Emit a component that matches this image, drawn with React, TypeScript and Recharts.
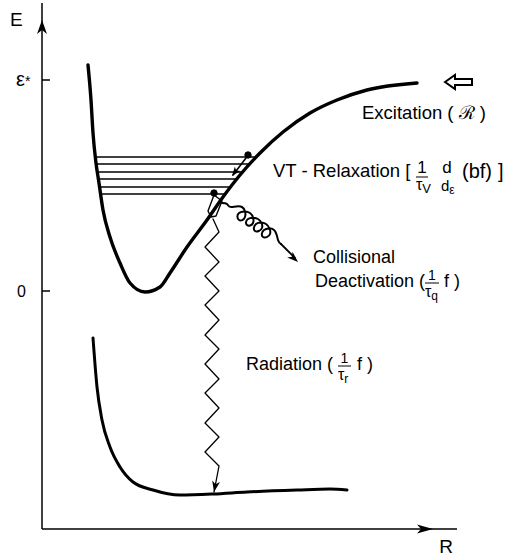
import React from 'react';
import { ComposedChart, XAxis, YAxis, Line, ReferenceLine, ReferenceDot } from 'recharts';

const FONT = '"Liberation Sans", Arial, Helvetica, sans-serif';
const INK = '#000';

// energy axis (arbitrary units): zero and the excitation level
const energyTicks = [0, 21.1];
const energyTickNames = ['0', 'ε*'];

// upper (excited state) potential curve
const upperCurve = [
  { r: 4.6, e: 22.6 }, { r: 4.9, e: 19.1 }, { r: 5.1, e: 15.8 }, { r: 5.4, e: 12.8 },
  { r: 5.7, e: 10.8 }, { r: 6.1, e: 8.1 }, { r: 6.8, e: 5.4 }, { r: 7.8, e: 2.8 },
  { r: 8.8, e: 0.8 }, { r: 10.3, e: -0.1 }, { r: 11.8, e: 0.4 }, { r: 12.8, e: 1.8 },
  { r: 14.5, e: 4.4 }, { r: 16.5, e: 7.1 }, { r: 18.1, e: 9.4 }, { r: 19.8, e: 11.6 },
  { r: 21.8, e: 13.8 }, { r: 24.1, e: 15.9 }, { r: 26.8, e: 17.8 }, { r: 29.5, e: 19.1 },
  { r: 32.5, e: 20.1 }, { r: 37.5, e: 20.8 },
];

// lower (ground state) curve
const lowerCurve = [
  { r: 5.1, e: -4.7 }, { r: 5.5, e: -9.6 }, { r: 6.0, e: -12.9 }, { r: 6.8, e: -15.6 },
  { r: 7.8, e: -17.6 }, { r: 9.1, e: -19.1 }, { r: 11.1, e: -19.9 }, { r: 13.8, e: -20.4 },
  { r: 17.1, e: -20.3 }, { r: 20.5, e: -20.1 }, { r: 25.5, e: -19.9 }, { r: 28.8, e: -19.8 },
  { r: 30.5, e: -19.9 },
];

// vibrational levels inside the upper well
const vibLevels = [
  { e: 13.4, r0: 5.5, r1: 21.4 },
  { e: 12.7, r0: 5.5, r1: 20.8 },
  { e: 11.9, r0: 5.6, r1: 20.1 },
  { e: 11.2, r0: 5.7, r1: 19.5 },
  { e: 10.4, r0: 5.8, r1: 18.9 },
  { e: 9.7, r0: 6.0, r1: 18.3 },
];

// populated states
const stateDots = [
  { r: 20.6, e: 13.6 },
  { r: 17.2, e: 9.8 },
];

// VT relaxation step
const vtStep = [
  { r: 20.4, e: 13.3 },
  { r: 19.1, e: 11.6 },
];

// small box where the radiative path starts
const launchBox = [
  { r: 17.2, e: 9.6 }, { r: 16.6, e: 8.0 }, { r: 16.9, e: 7.4 },
  { r: 17.4, e: 7.5 }, { r: 18.0, e: 9.0 }, { r: 17.2, e: 9.6 },
];

// radiation (zig-zag photon) path
const radiationPath = [
  { r: 17.1, e: 7.2 }, { r: 17.7, e: 5.9 }, { r: 16.3, e: 4.4 }, { r: 17.7, e: 2.9 },
  { r: 16.3, e: 1.5 }, { r: 17.7, e: 0.0 }, { r: 16.3, e: -1.4 }, { r: 17.7, e: -2.9 },
  { r: 16.3, e: -4.4 }, { r: 17.7, e: -5.8 }, { r: 16.3, e: -7.3 }, { r: 17.7, e: -8.8 },
  { r: 16.3, e: -10.2 }, { r: 17.7, e: -11.7 }, { r: 16.3, e: -13.2 }, { r: 17.7, e: -14.6 },
  { r: 16.3, e: -16.1 }, { r: 17.7, e: -17.5 }, { r: 17.2, e: -20.1 },
];

// collisional deactivation (coil) path
const collisionCoil = [
  { r: 18.0, e: 8.8 }, { r: 18.5, e: 8.7 }, { r: 18.9, e: 8.4 }, { r: 20.0, e: 8.4 },
  { r: 20.3, e: 7.4 }, { r: 19.7, e: 7.1 }, { r: 19.7, e: 7.8 }, { r: 20.8, e: 7.8 },
  { r: 21.1, e: 6.8 }, { r: 20.5, e: 6.6 }, { r: 20.6, e: 7.2 }, { r: 21.6, e: 7.2 },
  { r: 22.0, e: 6.3 }, { r: 21.3, e: 6.0 }, { r: 21.4, e: 6.7 }, { r: 22.4, e: 6.7 },
  { r: 22.8, e: 5.7 }, { r: 22.1, e: 5.4 }, { r: 22.2, e: 6.1 }, { r: 23.2, e: 6.1 },
  { r: 23.6, e: 5.1 }, { r: 23.9, e: 4.7 },
];
const coilTail = [
  { r: 23.9, e: 4.7 },
  { r: 25.3, e: 3.3 },
];

// arrow tips
const tipEAxis = { r: 0, e: 27.1 };
const tipRAxis = { r: 39.1, e: -23.8 };
const tipVT = { r: 19.0, e: 11.5 };
const tipCoil = { r: 25.6, e: 2.9 };
const tipRadiation = { r: 17.2, e: -20.1 };
const tipExcitation = { r: 40.3, e: 20.9 };

// label anchors (baseline start)
const posExcitation = { r: 32.0, e: 17.2 };
const posVT = { r: 23.1, e: 11.4 };
const posCollisional = { r: 27.1, e: 2.8 };
const posDeactivation = { r: 27.3, e: 0.4 };
const posRadiation = { r: 20.4, e: -7.9 };

const Arrowhead = ({ cx, cy, angle, len = 12, half = 4.5, notch = 3 }: any) => (
  <polygon
    points={`0,0 ${-len},${-half} ${-len + notch},0 ${-len},${half}`}
    transform={`translate(${cx},${cy}) rotate(${angle})`}
    fill={INK}
  />
);

const HollowArrow = ({ cx, cy }: any) => (
  <polygon
    points="0,0 10,-7 10,-3 27,-3 27,3 10,3 10,7"
    transform={`translate(${cx},${cy})`}
    fill="#fff"
    stroke={INK}
    strokeWidth={2}
    strokeLinejoin="miter"
  />
);

const EnergyTick = ({ x, y, payload }: any) => {
  const name = energyTickNames[energyTicks.indexOf(payload.value)];
  return (
    <g>
      <line x1={x} x2={x + 8} y1={y} y2={y} stroke={INK} strokeWidth={1.5} />
      {name === 'ε*' ? (
        <text x={x - 26} y={y + 6} fontFamily={FONT} fontSize={20} fill={INK}>
          ε<tspan fontSize={14}>*</tspan>
        </text>
      ) : (
        <text x={x - 25} y={y + 6} fontFamily={FONT} fontSize={16} fill={INK}>
          {name}
        </text>
      )}
    </g>
  );
};

// stacked fraction: numerator over a bar, denominator with a subscript
const Frac = ({ x, y, num, den, sub, w, numSize = 13, denSize = 15, subSize = 12, numY = -7, denY = 10, barY = -4, bar = true }: any) => (
  <g>
    <text x={x + w / 2} y={y + numY} fontSize={numSize} textAnchor="middle">{num}</text>
    {bar && <line x1={x} x2={x + w} y1={y + barY} y2={y + barY} stroke={INK} strokeWidth={1} />}
    <text x={x} y={y + denY} fontSize={denSize}>
      {den}
      <tspan fontSize={subSize} dy={3}>{sub}</tspan>
    </text>
  </g>
);

const ExcitationLabel = ({ cx, cy }: any) => (
  <text x={cx} y={cy} fontFamily={FONT} fontSize={18.5} fill={INK}>Excitation ( ℛ )</text>
);

const VTLabel = ({ cx, cy }: any) => (
  <g fontFamily={FONT} fill={INK}>
    <text x={cx} y={cy} fontSize={18.5}>VT - Relaxation [</text>
    <Frac x={cx + 143} y={cy} w={12} num="1" den="τ" sub="V" numSize={17} denSize={16} subSize={13} numY={-4} denY={13} barY={0} />
    <Frac x={cx + 168} y={cy} w={12} num="d" den="d" sub="ε" numSize={17} denSize={15} subSize={12} numY={-4} denY={14} bar={false} />
    <text x={cx + 189} y={cy + 1} fontSize={20}>(bf)</text>
    <text x={cx + 225} y={cy + 1} fontSize={20}>]</text>
  </g>
);

const CollisionalLabel = ({ cx, cy }: any) => (
  <text x={cx} y={cy} fontFamily={FONT} fontSize={18} fill={INK}>Collisional</text>
);

const DeactivationLabel = ({ cx, cy }: any) => (
  <g fontFamily={FONT} fill={INK}>
    <text x={cx} y={cy} fontSize={18}>Deactivation (</text>
    <Frac x={cx + 110} y={cy} w={14} num="1" den="τ" sub="q" numSize={14} denSize={16} />
    <text x={cx + 129} y={cy} fontSize={18}>f )</text>
  </g>
);

const RadiationLabel = ({ cx, cy }: any) => (
  <g fontFamily={FONT} fill={INK}>
    <text x={cx} y={cy} fontSize={18}>Radiation (</text>
    <Frac x={cx + 92} y={cy} w={13} num="1" den="τ" sub="r" numSize={14} denSize={16} />
    <text x={cx + 111} y={cy} fontSize={18}>f )</text>
  </g>
);

const line = (data: any[], width: number, type: any = 'linear') => (
  <Line
    data={data}
    dataKey="e"
    type={type}
    stroke={INK}
    strokeWidth={width}
    dot={false}
    activeDot={false}
    strokeLinecap="round"
    strokeLinejoin="round"
    isAnimationActive={false}
  />
);

const App: React.FC = () => {
  return (
    <div style={{ position: 'absolute', left: 0, top: 0, width: 507, height: 557, background: '#fff' }}>
      <ComposedChart width={507} height={557} margin={{ top: 3, right: 50, bottom: 0, left: 0 }}>
        <XAxis
          type="number"
          dataKey="r"
          domain={[0, 41.5]}
          allowDataOverflow
          height={28}
          tick={false}
          tickLine={false}
          axisLine={{ stroke: INK, strokeWidth: 1.5 }}
          label={{ value: 'R', position: 'insideBottomRight', offset: 4, fontSize: 19, fontFamily: FONT, fill: INK }}
        />
        <YAxis
          type="number"
          dataKey="e"
          domain={[-23.8, 28.8]}
          allowDataOverflow
          ticks={energyTicks}
          width={42}
          tickSize={0}
          tickMargin={0}
          tickLine={false}
          tick={(p: any) => <EnergyTick {...p} />}
          axisLine={{ stroke: INK, strokeWidth: 1.5 }}
          label={{ value: 'E', position: 'insideTopLeft', offset: 10, fontSize: 19, fontFamily: FONT, fill: INK }}
        />

        {vibLevels.map((l, i) => (
          <ReferenceLine
            key={i}
            segment={[{ x: l.r0, y: l.e }, { x: l.r1, y: l.e }]}
            stroke={INK}
            strokeWidth={1.4}
          />
        ))}

        {line(upperCurve, 3.4, 'monotone')}
        {line(lowerCurve, 3, 'monotone')}
        {line(radiationPath, 1.3)}
        {line(launchBox, 1.4)}
        {line(collisionCoil, 2, 'natural')}
        {line(coilTail, 1.8)}
        {line(vtStep, 1.6)}

        {stateDots.map((d, i) => (
          <ReferenceDot key={i} x={d.r} y={d.e} r={3.2} fill={INK} stroke={INK} ifOverflow="visible" />
        ))}

        <ReferenceDot x={tipEAxis.r} y={tipEAxis.e} ifOverflow="visible" shape={(p: any) => <Arrowhead {...p} angle={-90} len={14} half={5} notch={4} />} />
        <ReferenceDot x={tipRAxis.r} y={tipRAxis.e} ifOverflow="visible" shape={(p: any) => <Arrowhead {...p} angle={0} len={16} half={4.5} notch={4} />} />
        <ReferenceDot x={tipVT.r} y={tipVT.e} ifOverflow="visible" shape={(p: any) => <Arrowhead {...p} angle={128} len={9} half={3.5} notch={2} />} />
        <ReferenceDot x={tipCoil.r} y={tipCoil.e} ifOverflow="visible" shape={(p: any) => <Arrowhead {...p} angle={42} len={11} half={4} notch={3} />} />
        <ReferenceDot x={tipRadiation.r} y={tipRadiation.e} ifOverflow="visible" shape={(p: any) => <Arrowhead {...p} angle={101} len={11} half={4} notch={3} />} />
        <ReferenceDot x={tipExcitation.r} y={tipExcitation.e} ifOverflow="visible" shape={(p: any) => <HollowArrow {...p} />} />

        <ReferenceDot x={posExcitation.r} y={posExcitation.e} ifOverflow="visible" shape={(p: any) => <ExcitationLabel {...p} />} />
        <ReferenceDot x={posVT.r} y={posVT.e} ifOverflow="visible" shape={(p: any) => <VTLabel {...p} />} />
        <ReferenceDot x={posCollisional.r} y={posCollisional.e} ifOverflow="visible" shape={(p: any) => <CollisionalLabel {...p} />} />
        <ReferenceDot x={posDeactivation.r} y={posDeactivation.e} ifOverflow="visible" shape={(p: any) => <DeactivationLabel {...p} />} />
        <ReferenceDot x={posRadiation.r} y={posRadiation.e} ifOverflow="visible" shape={(p: any) => <RadiationLabel {...p} />} />
      </ComposedChart>
    </div>
  );
};

export default App;
